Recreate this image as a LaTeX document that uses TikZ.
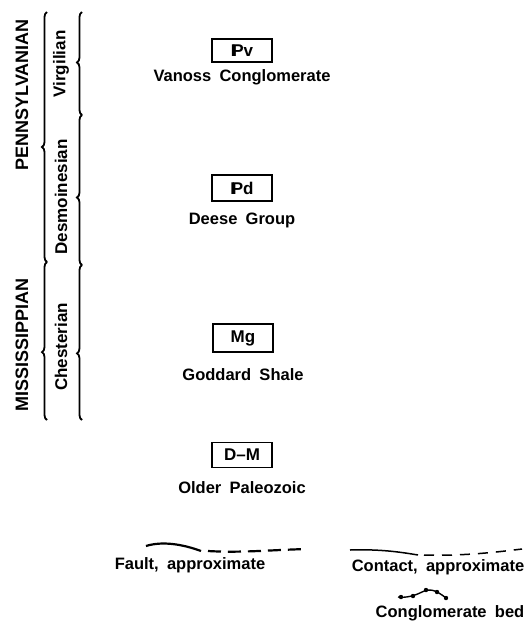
\documentclass[tikz,border=0pt]{standalone}
\usepackage{fontspec}
\setmainfont{Liberation Sans}[WordSpace=1.8]
\usetikzlibrary{decorations.pathreplacing}

\tikzset{
    unitbox/.style={draw, line width=1.9pt, minimum width=60pt, minimum height=24pt,
        inner sep=0pt, font=\fontsize{17}{17}\selectfont\bfseries},
    unitname/.style={font=\fontsize{16.5}{16.5}\selectfont\bfseries},
    periodlabel/.style={rotate=90, font=\fontsize{18}{18}\selectfont\bfseries},
    stagelabel/.style={rotate=90, font=\fontsize{17}{17}\selectfont\bfseries},
    sidebrace/.style={line width=1.8pt, decorate,
        decoration={brace, amplitude=5pt, aspect=#1}},
    sidebrace/.default=0.5
}

% Pennsylvanian P with the extra stem
\newcommand{\penn}{\makebox[0pt][l]{I}\kern0.08em P}

\begin{document}
\begin{tikzpicture}[x=1pt, y=-1pt]
\useasboundingbox (0,0) rectangle (528,641);

% Period braces
\draw[sidebrace=0.46] (47,262) -- (47,12);
\draw[sidebrace=0.43] (47,420) -- (47,262);
\node[periodlabel] (penn) at (22,95) {PENNSYLVANIAN};
\node[periodlabel] (miss) at (22,345) {MISSISSIPPIAN};

% Stage braces
\draw[sidebrace=0.51] (82,115) -- (82,12);
\draw[sidebrace=0.45] (82,265) -- (82,115);
\draw[sidebrace=0.43] (82,420) -- (82,265);
\node[stagelabel] (virg) at (61,64) {Virgilian};
\node[stagelabel] (desm) at (61,197) {Desmoinesian};
\node[stagelabel] (ches) at (61,347) {Chesterian};

% Map units
\node[unitbox, minimum height=23pt] (pv) at (242,50.5) {\penn v};
\node[unitname] (pvname) at (242,77) {Vanoss Conglomerate};
\node[unitbox, minimum height=26pt] (pd) at (242,188) {\penn d};
\node[unitname] (pdname) at (242,220) {Deese Group};
\node[unitbox, minimum height=28pt] (mg) at (243,338) {Mg};
\node[unitname] (mgname) at (243,375) {Goddard Shale};
\node[unitbox, minimum height=25pt] (dm) at (242,455) {D--M};
\node[unitname] (dmname) at (242,488) {Older Paleozoic};

% Fault, approximate
\draw[line width=2.2pt] (146,546) .. controls (162,541) and (182,544) .. (201,551);
\draw[line width=2.2pt, dash pattern=on 13pt off 7pt] (208,551) .. controls (240,553) and (270,550) .. (307,549);
\node[unitname] (fault) at (190,565) {Fault, approximate};

% Contact, approximate
\draw[line width=1.5pt] (350,550) .. controls (380,549) and (400,552) .. (418,555);
\draw[line width=1.5pt, dash pattern=on 10pt off 8pt] (424,555) .. controls (460,556) and (490,553) .. (522,549);
\node[unitname] (contact) at (438,567) {Contact, approximate};

% Conglomerate bed
\draw[line width=1.4pt] (398,597) .. controls (406,598) and (414,596) .. (422,592)
    .. controls (430,588) and (436,590) .. (446,598);
\foreach \cx/\cy in {401/597, 413/596, 426/590, 437/592, 446/598}
    \fill (\cx,\cy) circle (2.2pt);
\node[unitname] (cong) at (450,613) {Conglomerate bed};

\end{tikzpicture}
\end{document}
